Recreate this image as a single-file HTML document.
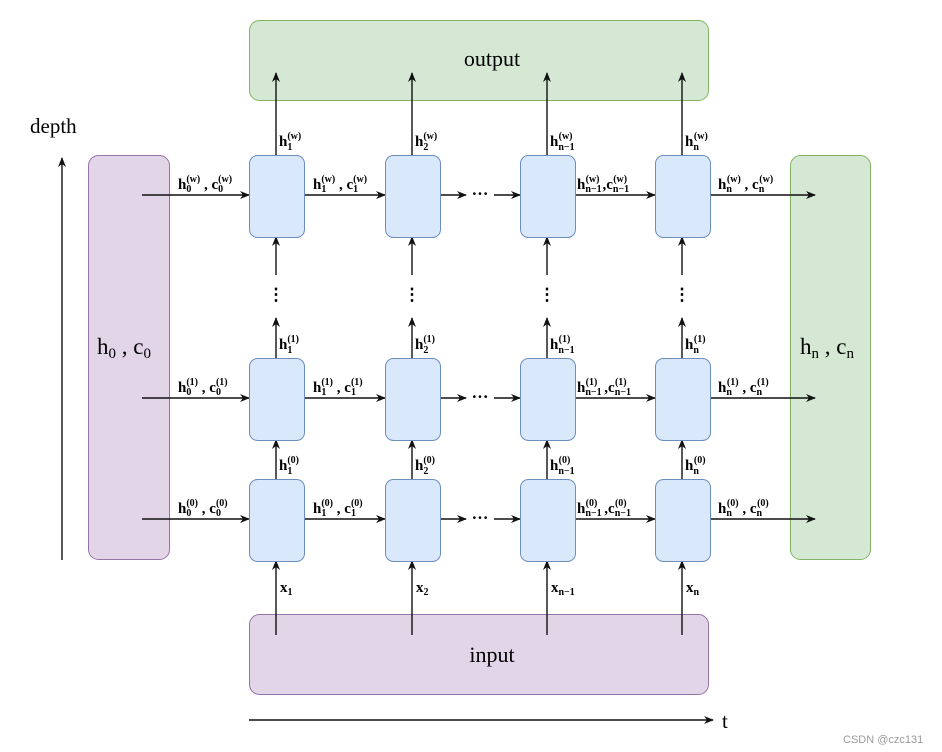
<!DOCTYPE html>
<html><head><meta charset="utf-8"><style>
html,body{margin:0;padding:0;background:#fff}
svg{display:block}
text{font-family:"Liberation Serif",serif;fill:#000}
.b{font-size:15px;font-weight:bold}.s{font-size:10px}.L{font-size:23px}
</style></head><body>
<svg width="942" height="752" viewBox="0 0 942 752" xmlns="http://www.w3.org/2000/svg">
<defs><marker id="a" markerWidth="10" markerHeight="10" refX="9" refY="5" orient="auto" markerUnits="userSpaceOnUse"><path d="M0,1 L10,5 L0,9 L3,5 z" fill="#111"/></marker></defs>
<rect x="249.5" y="20.5" width="459" height="80" rx="10" fill="#d5e8d4" stroke="#82b366"/>
<rect x="249.5" y="614.5" width="459" height="80" rx="10" fill="#e1d5e7" stroke="#9673a6"/>
<rect x="88.5" y="155.5" width="81" height="404" rx="10" fill="#e1d5e7" stroke="#9673a6"/>
<rect x="790.5" y="155.5" width="80" height="404" rx="10" fill="#d5e8d4" stroke="#82b366"/>
<text x="492" y="66" text-anchor="middle" font-size="22">output</text>
<text x="492" y="662" text-anchor="middle" font-size="22">input</text>
<text x="30" y="133" font-size="21">depth</text>
<text x="722" y="728" font-size="21">t</text>
<text x="843" y="743" style="font-family:'Liberation Sans',sans-serif;font-size:11px;fill:#999">CSDN @czc131</text>
<text x="97" y="354" class="L">h<tspan font-size="15" dy="4">0</tspan><tspan dy="-4"> , c</tspan><tspan font-size="15" dy="4">0</tspan></text>
<text x="800" y="354" class="L">h<tspan font-size="15" dy="4">n</tspan><tspan dy="-4"> , c</tspan><tspan font-size="15" dy="4">n</tspan></text>
<g stroke="#111" stroke-width="1.4" fill="none" marker-end="url(#a)">
<line x1="62" y1="560" x2="62" y2="158"/>
<line x1="249" y1="720" x2="713" y2="720"/>
<line x1="142" y1="195" x2="249" y2="195"/><line x1="304" y1="195" x2="385" y2="195"/><line x1="440" y1="195" x2="466" y2="195"/><line x1="494" y1="195" x2="520" y2="195"/><line x1="575" y1="195" x2="655" y2="195"/><line x1="710" y1="195" x2="815" y2="195"/>
<line x1="142" y1="398" x2="249" y2="398"/><line x1="304" y1="398" x2="385" y2="398"/><line x1="440" y1="398" x2="466" y2="398"/><line x1="494" y1="398" x2="520" y2="398"/><line x1="575" y1="398" x2="655" y2="398"/><line x1="710" y1="398" x2="815" y2="398"/>
<line x1="142" y1="519" x2="249" y2="519"/><line x1="304" y1="519" x2="385" y2="519"/><line x1="440" y1="519" x2="466" y2="519"/><line x1="494" y1="519" x2="520" y2="519"/><line x1="575" y1="519" x2="655" y2="519"/><line x1="710" y1="519" x2="815" y2="519"/>
<line x1="276" y1="155" x2="276" y2="73"/><line x1="412" y1="155" x2="412" y2="73"/><line x1="547" y1="155" x2="547" y2="73"/><line x1="682" y1="155" x2="682" y2="73"/>
<line x1="276" y1="275" x2="276" y2="237"/><line x1="412" y1="275" x2="412" y2="237"/><line x1="547" y1="275" x2="547" y2="237"/><line x1="682" y1="275" x2="682" y2="237"/>
<line x1="276" y1="358" x2="276" y2="318"/><line x1="412" y1="358" x2="412" y2="318"/><line x1="547" y1="358" x2="547" y2="318"/><line x1="682" y1="358" x2="682" y2="318"/>
<line x1="276" y1="479" x2="276" y2="440"/><line x1="412" y1="479" x2="412" y2="440"/><line x1="547" y1="479" x2="547" y2="440"/><line x1="682" y1="479" x2="682" y2="440"/>
<line x1="276" y1="635" x2="276" y2="561"/><line x1="412" y1="635" x2="412" y2="561"/><line x1="547" y1="635" x2="547" y2="561"/><line x1="682" y1="635" x2="682" y2="561"/>
</g>
<g fill="#dae8fc" stroke="#6c8ebf">
<rect x="249.5" y="155.5" width="55" height="82" rx="8"/><rect x="385.5" y="155.5" width="55" height="82" rx="8"/><rect x="520.5" y="155.5" width="55" height="82" rx="8"/><rect x="655.5" y="155.5" width="55" height="82" rx="8"/>
<rect x="249.5" y="358.5" width="55" height="82" rx="8"/><rect x="385.5" y="358.5" width="55" height="82" rx="8"/><rect x="520.5" y="358.5" width="55" height="82" rx="8"/><rect x="655.5" y="358.5" width="55" height="82" rx="8"/>
<rect x="249.5" y="479.5" width="55" height="82" rx="8"/><rect x="385.5" y="479.5" width="55" height="82" rx="8"/><rect x="520.5" y="479.5" width="55" height="82" rx="8"/><rect x="655.5" y="479.5" width="55" height="82" rx="8"/>
</g>
<g font-size="17" text-anchor="middle" font-weight="bold">
<text x="480" y="199">···</text><text x="480" y="402">···</text><text x="480" y="523">···</text>
<text x="276" y="300">⋮</text><text x="412" y="300">⋮</text><text x="547" y="300">⋮</text><text x="682" y="300">⋮</text>
</g>
<g class="b">
<text x="279" y="146">h<tspan class="s" dy="4">1</tspan><tspan class="s" dx="-5" dy="-11">(w)</tspan></text>
<text x="415" y="146">h<tspan class="s" dy="4">2</tspan><tspan class="s" dx="-5" dy="-11">(w)</tspan></text>
<text x="550" y="146">h<tspan class="s" dy="4">n−1</tspan><tspan class="s" dx="-16" dy="-11">(w)</tspan></text>
<text x="685" y="146">h<tspan class="s" dy="4">n</tspan><tspan class="s" dx="-5" dy="-11">(w)</tspan></text>
<text x="279" y="349">h<tspan class="s" dy="4">1</tspan><tspan class="s" dx="-5" dy="-11">(1)</tspan></text>
<text x="415" y="349">h<tspan class="s" dy="4">2</tspan><tspan class="s" dx="-5" dy="-11">(1)</tspan></text>
<text x="550" y="349">h<tspan class="s" dy="4">n−1</tspan><tspan class="s" dx="-16" dy="-11">(1)</tspan></text>
<text x="685" y="349">h<tspan class="s" dy="4">n</tspan><tspan class="s" dx="-5" dy="-11">(1)</tspan></text>
<text x="279" y="470">h<tspan class="s" dy="4">1</tspan><tspan class="s" dx="-5" dy="-11">(0)</tspan></text>
<text x="415" y="470">h<tspan class="s" dy="4">2</tspan><tspan class="s" dx="-5" dy="-11">(0)</tspan></text>
<text x="550" y="470">h<tspan class="s" dy="4">n−1</tspan><tspan class="s" dx="-16" dy="-11">(0)</tspan></text>
<text x="685" y="470">h<tspan class="s" dy="4">n</tspan><tspan class="s" dx="-5" dy="-11">(0)</tspan></text>
<text x="280" y="592">x<tspan class="s" dy="3">1</tspan></text>
<text x="416" y="592">x<tspan class="s" dy="3">2</tspan></text>
<text x="551" y="592">x<tspan class="s" dy="3">n−1</tspan></text>
<text x="686" y="592">x<tspan class="s" dy="3">n</tspan></text>
</g>
<g class="b">
<text x="178" y="189">h<tspan class="s" dy="3">0</tspan><tspan class="s" dx="-5" dy="-10">(w)</tspan><tspan dy="7"> , c</tspan><tspan class="s" dy="3">0</tspan><tspan class="s" dx="-5" dy="-10">(w)</tspan></text>
<text x="313" y="189">h<tspan class="s" dy="3">1</tspan><tspan class="s" dx="-5" dy="-10">(w)</tspan><tspan dy="7"> , c</tspan><tspan class="s" dy="3">1</tspan><tspan class="s" dx="-5" dy="-10">(w)</tspan></text>
<text x="577" y="189">h<tspan class="s" dy="3">n−1</tspan><tspan class="s" dx="-16" dy="-10">(w)</tspan><tspan dx="3" dy="7">,c</tspan><tspan class="s" dy="3">n−1</tspan><tspan class="s" dx="-16" dy="-10">(w)</tspan></text>
<text x="718" y="189">h<tspan class="s" dy="3">n</tspan><tspan class="s" dx="-5" dy="-10">(w)</tspan><tspan dy="7"> , c</tspan><tspan class="s" dy="3">n</tspan><tspan class="s" dx="-5" dy="-10">(w)</tspan></text>
<text x="178" y="392">h<tspan class="s" dy="3">0</tspan><tspan class="s" dx="-5" dy="-10">(1)</tspan><tspan dy="7"> , c</tspan><tspan class="s" dy="3">0</tspan><tspan class="s" dx="-5" dy="-10">(1)</tspan></text>
<text x="313" y="392">h<tspan class="s" dy="3">1</tspan><tspan class="s" dx="-5" dy="-10">(1)</tspan><tspan dy="7"> , c</tspan><tspan class="s" dy="3">1</tspan><tspan class="s" dx="-5" dy="-10">(1)</tspan></text>
<text x="577" y="392">h<tspan class="s" dy="3">n−1</tspan><tspan class="s" dx="-16" dy="-10">(1)</tspan><tspan dx="7" dy="7">,c</tspan><tspan class="s" dy="3">n−1</tspan><tspan class="s" dx="-16" dy="-10">(1)</tspan></text>
<text x="718" y="392">h<tspan class="s" dy="3">n</tspan><tspan class="s" dx="-5" dy="-10">(1)</tspan><tspan dy="7"> , c</tspan><tspan class="s" dy="3">n</tspan><tspan class="s" dx="-5" dy="-10">(1)</tspan></text>
<text x="178" y="513">h<tspan class="s" dy="3">0</tspan><tspan class="s" dx="-5" dy="-10">(0)</tspan><tspan dy="7"> , c</tspan><tspan class="s" dy="3">0</tspan><tspan class="s" dx="-5" dy="-10">(0)</tspan></text>
<text x="313" y="513">h<tspan class="s" dy="3">1</tspan><tspan class="s" dx="-5" dy="-10">(0)</tspan><tspan dy="7"> , c</tspan><tspan class="s" dy="3">1</tspan><tspan class="s" dx="-5" dy="-10">(0)</tspan></text>
<text x="577" y="513">h<tspan class="s" dy="3">n−1</tspan><tspan class="s" dx="-16" dy="-10">(0)</tspan><tspan dx="7" dy="7">,c</tspan><tspan class="s" dy="3">n−1</tspan><tspan class="s" dx="-16" dy="-10">(0)</tspan></text>
<text x="718" y="513">h<tspan class="s" dy="3">n</tspan><tspan class="s" dx="-5" dy="-10">(0)</tspan><tspan dy="7"> , c</tspan><tspan class="s" dy="3">n</tspan><tspan class="s" dx="-5" dy="-10">(0)</tspan></text>
</g>
</svg>
</body></html>
